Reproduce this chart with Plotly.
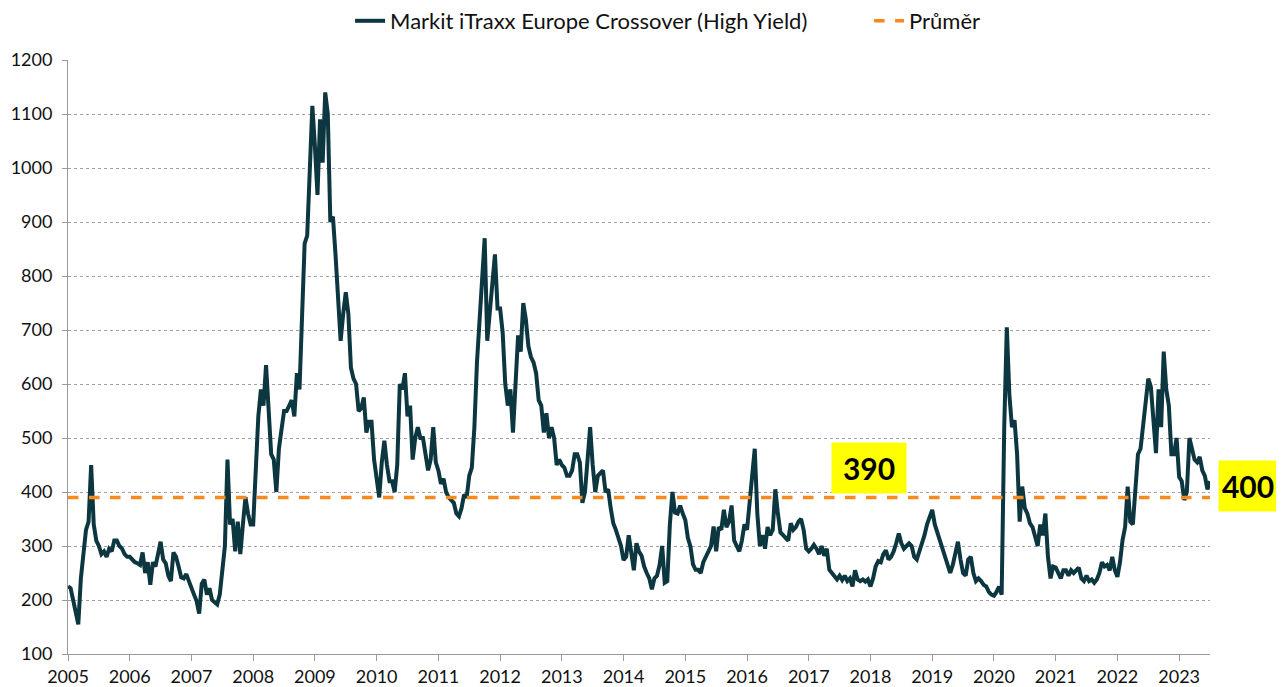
import plotly.graph_objects as go

# semi-monthly readings of the index (bp), one list per year
s2005 = [225, 222, 200, 180, 155, 240, 290, 330, 345, 450, 340, 310, 300, 285, 290, 280, 295, 290, 310, 310, 300, 295, 285, 280]
s2006 = [280, 275, 270, 268, 265, 288, 250, 270, 228, 270, 262, 285, 308, 275, 268, 245, 235, 288, 280, 262, 242, 240, 248, 235]
s2007 = [220, 210, 198, 175, 230, 238, 210, 222, 200, 195, 192, 210, 250, 300, 460, 340, 350, 290, 345, 285, 340, 390, 360, 340]
s2008 = [340, 450, 540, 590, 560, 635, 550, 470, 460, 400, 480, 520, 550, 550, 560, 570, 540, 620, 590, 710, 860, 875, 1000, 1115]
s2009 = [1040, 950, 1090, 1010, 1140, 1100, 900, 910, 840, 750, 680, 730, 770, 730, 630, 610, 600, 550, 555, 575, 510, 530, 530, 460]
s2010 = [420, 390, 455, 495, 450, 420, 420, 400, 450, 600, 590, 620, 540, 560, 460, 500, 520, 500, 500, 470, 440, 460, 520, 455]
s2011 = [440, 415, 425, 400, 390, 385, 380, 360, 355, 370, 395, 390, 430, 445, 520, 640, 720, 800, 870, 680, 740, 780, 840, 740]
s2012 = [740, 695, 600, 560, 590, 510, 620, 690, 660, 750, 720, 670, 650, 640, 620, 570, 560, 510, 546, 500, 520, 500, 450, 460]
s2013 = [450, 445, 430, 430, 440, 470, 470, 455, 380, 400, 460, 520, 450, 400, 430, 435, 440, 400, 405, 370, 342, 330, 315, 300]
s2014 = [274, 280, 320, 286, 255, 305, 290, 282, 262, 250, 240, 220, 240, 245, 265, 300, 232, 235, 340, 400, 362, 360, 375, 360]
s2015 = [348, 315, 299, 266, 256, 256, 250, 270, 280, 290, 300, 336, 290, 335, 330, 367, 335, 345, 375, 310, 300, 290, 310, 340]
s2016 = [330, 380, 420, 480, 360, 300, 320, 295, 335, 320, 330, 405, 360, 325, 320, 315, 310, 342, 330, 335, 345, 350, 330, 295]
s2017 = [290, 295, 302, 295, 285, 300, 282, 295, 256, 250, 245, 238, 245, 237, 245, 235, 240, 225, 255, 238, 235, 238, 234, 238]
s2018 = [225, 240, 262, 272, 270, 285, 292, 275, 280, 290, 305, 323, 305, 295, 300, 305, 300, 280, 275, 290, 300, 320, 340, 355]
s2019 = [367, 340, 325, 311, 290, 280, 260, 250, 265, 290, 308, 275, 250, 245, 275, 280, 250, 235, 240, 235, 228, 225, 215, 210]
s2020 = [208, 215, 225, 210, 520, 705, 580, 520, 533, 470, 345, 410, 370, 360, 342, 335, 320, 300, 340, 320, 360, 280, 240, 262]
s2021 = [260, 250, 240, 255, 255, 245, 255, 250, 255, 260, 240, 235, 245, 235, 238, 232, 238, 250, 270, 262, 265, 255, 280, 255]
s2022 = [243, 270, 311, 335, 410, 345, 340, 420, 470, 480, 520, 570, 610, 595, 520, 472, 590, 520, 660, 590, 560, 470, 470, 500]
s2023 = [428, 420, 385, 400, 500, 480, 460, 455, 465, 440, 430, 405, 420]

prumer = 390
posledni = 400
years = list(range(2005, 2024))

series = [s2005, s2006, s2007, s2008, s2009, s2010, s2011, s2012, s2013, s2014,
          s2015, s2016, s2017, s2018, s2019, s2020, s2021, s2022, s2023]

t = []
v = []
for yr, vals in zip(years, series):
    for i, val in enumerate(vals):
        t.append(yr + i / 24)
        v.append(val)

line_col = "#0c3640"
avg_col = "#f7891f"
grid_col = "#a0a0a0"

fig = go.Figure()
fig.add_trace(go.Scatter(x=t, y=v, mode="lines", name="Markit iTraxx Europe Crossover (High Yield)",
                         line=dict(color=line_col, width=4)))
fig.add_trace(go.Scatter(x=[2005, 2023.5], y=[prumer, prumer], mode="lines", name="Průměr",
                         line=dict(color=avg_col, width=3.5, dash="dash")))

# page has an 8px body margin, so the figure is 8px smaller than the window
fig.add_annotation(x=2017.98, y=444, xref="x", yref="y", text="<b>%d</b>" % prumer, showarrow=False,
                   bgcolor="#ffff00", width=74, height=50, borderpad=0, xanchor="center",
                   font=dict(size=30, color="black", family="Lato"))
fig.add_annotation(x=(1218 - 68) / 1142, y=411, xref="paper", yref="y", text="<b>%d</b>" % posledni,
                   showarrow=False, bgcolor="#ffff00", width=58, height=50, borderpad=0, xanchor="left",
                   font=dict(size=30, color="black", family="Lato"))

fig.update_layout(
    width=1276, height=679,
    margin=dict(l=60, r=74, t=52, b=33, autoexpand=False),
    paper_bgcolor="white", plot_bgcolor="white",
    font=dict(family="Lato", size=18, color="#111111"),
    showlegend=True,
    legend=dict(orientation="h", x=0.247, xanchor="left", y=(654 - 21) / 594, yanchor="middle",
                font=dict(size=22), entrywidth=474, entrywidthmode="pixels"),
)
fig.update_xaxes(range=[2005, 2023.5], tickmode="array", tickvals=years, ticktext=[str(y) for y in years],
                 showgrid=False, showline=True, linecolor="#9a9a9a", linewidth=1,
                 ticks="outside", ticklen=6, tickcolor="#9a9a9a", zeroline=False)
fig.update_yaxes(range=[100, 1200], dtick=100, showgrid=True, gridcolor=grid_col, griddash="dot", gridwidth=1,
                 showline=True, linecolor="#9a9a9a", linewidth=1, ticklabelstandoff=6,
                 ticks="outside", ticklen=5, tickcolor="#9a9a9a", zeroline=False)

fig.write_html("out.html")
